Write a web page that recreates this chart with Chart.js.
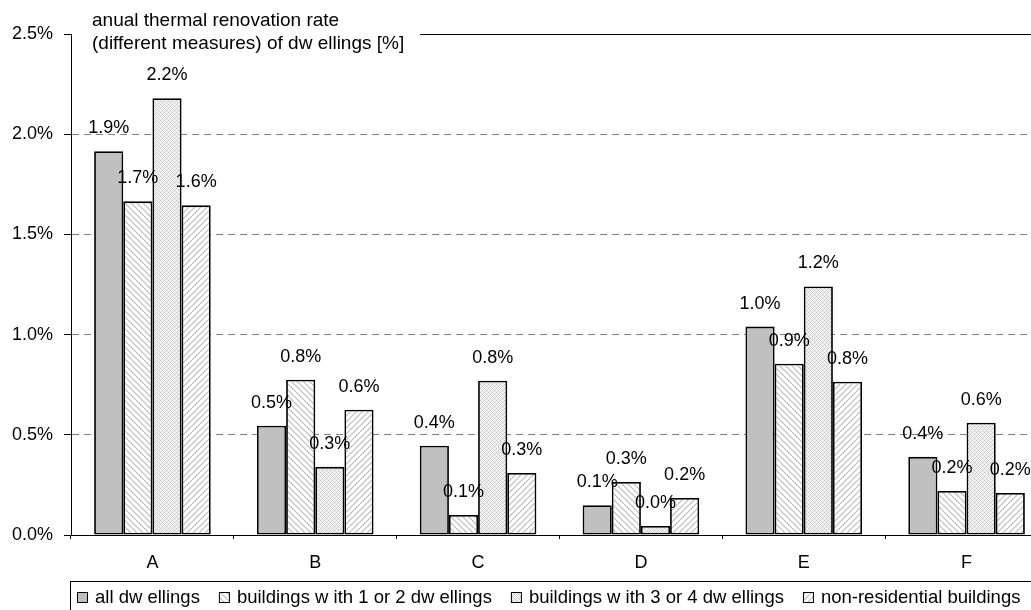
<!DOCTYPE html>
<html lang="en">
<head>
  <meta charset="utf-8">
  <script src="https://cdn.jsdelivr.net/npm/chart.js@4.4.0/dist/chart.umd.min.js"></script>
  <style>
    html, body {
      margin: 0;
      padding: 0;
      background: #fff;
      overflow: hidden;
    }
    #wrap {
      width: 1031px;
      height: 610px;
      overflow: hidden;
    }
  </style>
</head>
<body>
  <div id="wrap">
    <canvas id="chart" width="1048" height="610"></canvas>
  </div>

  <script>
    // data (percent)
    const categories = ['A', 'B', 'C', 'D', 'E', 'F'];
    const seriesNames = [
      'all dw ellings',
      'buildings w ith 1 or 2 dw ellings',
      'buildings w ith 3 or 4 dw ellings',
      'non-residential buildings'
    ];
    const allDwellings = [1.915, 0.545, 0.445, 0.148, 1.04, 0.39];
    const dwellings12 = [1.665, 0.775, 0.10, 0.265, 0.855, 0.22];
    const dwellings34 = [2.18, 0.34, 0.77, 0.045, 1.24, 0.56];
    const nonResidential = [1.645, 0.625, 0.31, 0.185, 0.765, 0.21];
    const yTicks = [0, 0.5, 1.0, 1.5, 2.0, 2.5];
    const titleLines = ['anual thermal renovation rate', '(different measures) of dw ellings [%]'];

    const FONT = '"Liberation Sans", Arial, sans-serif';

    function stripes(dir) {
      const c = document.createElement('canvas');
      c.width = 6; c.height = 6;
      const g = c.getContext('2d');
      g.fillStyle = '#fff';
      g.fillRect(0, 0, 6, 6);
      g.strokeStyle = '#bcbcbc';
      g.lineWidth = 1.2;
      for (let k = -6; k <= 12; k += 6) {
        g.beginPath();
        if (dir > 0) { g.moveTo(k, 6); g.lineTo(k + 6, 0); }
        else { g.moveTo(k, 0); g.lineTo(k + 6, 6); }
        g.stroke();
      }
      return g.createPattern(c, 'repeat');
    }

    function crosshatch() {
      const c = document.createElement('canvas');
      c.width = 4; c.height = 4;
      const g = c.getContext('2d');
      g.fillStyle = '#f2f2f2';
      g.fillRect(0, 0, 4, 4);
      g.fillStyle = '#c4c4c4';
      g.fillRect(0, 0, 1, 1);
      g.fillRect(2, 2, 1, 1);
      g.fillStyle = '#dadada';
      g.fillRect(1, 1, 1, 1);
      g.fillRect(3, 3, 1, 1);
      g.fillRect(1, 3, 1, 1);
      g.fillRect(3, 1, 1, 1);
      return g.createPattern(c, 'repeat');
    }

    const fills = ['#c0c0c0', stripes(-1), crosshatch(), stripes(1)];
    const values = [allDwellings, dwellings12, dwellings34, nonResidential];

    const decorations = {
      id: 'decorations',
      afterDatasetsDraw(chart) {
        const ctx = chart.ctx;
        ctx.save();
        // value labels above bars
        ctx.font = '18px ' + FONT;
        ctx.fillStyle = '#000';
        ctx.textAlign = 'center';
        ctx.textBaseline = 'middle';
        chart.data.datasets.forEach((ds, i) => {
          chart.getDatasetMeta(i).data.forEach((bar, j) => {
            ctx.fillText(ds.data[j].toFixed(1) + '%', bar.x, bar.y - 23);
          });
        });
        ctx.restore();
      },
      afterDraw(chart) {
        const ctx = chart.ctx;
        const area = chart.chartArea;
        ctx.save();
        // top frame line, interrupted by the axis title
        ctx.strokeStyle = '#000';
        ctx.lineWidth = 1;
        ctx.beginPath();
        ctx.moveTo(420, area.top + 0.5);
        ctx.lineTo(chart.width, area.top + 0.5);
        ctx.stroke();

        // axis title
        ctx.font = '19px ' + FONT;
        ctx.fillStyle = '#000';
        ctx.textAlign = 'left';
        ctx.textBaseline = 'middle';
        ctx.fillText(titleLines[0], 92, 21);
        ctx.fillText(titleLines[1], 92, 44);

        // legend
        ctx.strokeRect(70.5, 581.5, chart.width, 60);
        ctx.font = '18.5px ' + FONT;
        let x = 77;
        seriesNames.forEach((name, i) => {
          ctx.fillStyle = fills[i];
          ctx.fillRect(x, 592, 10, 10);
          ctx.strokeRect(x + 0.5, 592.5, 10, 10);
          ctx.fillStyle = '#000';
          ctx.fillText(name, x + 18, 597.5);
          x += 18 + ctx.measureText(name).width + 19;
        });
        ctx.restore();
      }
    };

    new Chart(document.getElementById('chart'), {
      type: 'bar',
      data: {
        labels: categories,
        datasets: seriesNames.map((name, i) => ({
          label: name,
          data: values[i],
          backgroundColor: fills[i],
          borderColor: '#000',
          borderWidth: 1.8,
          borderSkipped: false,
          categoryPercentage: 0.716,
          barPercentage: 1
        }))
      },
      options: {
        responsive: false,
        animation: false,
        layout: { padding: { top: 34, right: 0, left: 0, bottom: 0 } },
        plugins: {
          legend: { display: false },
          tooltip: { enabled: false }
        },
        scales: {
          x: {
            grid: {
              offset: true,
              drawOnChartArea: false,
              color: '#000',
              tickLength: 4
            },
            border: { color: '#000', width: 1 },
            ticks: {
              color: '#000',
              font: { family: FONT, size: 18 },
              padding: 13
            },
            afterFit(scale) { scale.height = 75; }
          },
          y: {
            min: 0,
            max: 2.5,
            afterBuildTicks(scale) {
              scale.ticks = yTicks.map(v => ({ value: v }));
            },
            grid: {
              color: ctx => (ctx.tick && ctx.tick.value > 0 && ctx.tick.value < 2.5) ? '#808080' : 'rgba(0,0,0,0)',
              tickColor: '#000',
              tickLength: 7,
              tickBorderDash: [],
              lineWidth: 1
            },
            border: { color: '#000', width: 1, dash: [7, 5] },
            ticks: {
              color: '#000',
              font: { family: FONT, size: 18 },
              padding: 11,
              callback: v => v.toFixed(1) + '%'
            },
            afterFit(scale) { scale.width = 71; }
          }
        }
      },
      plugins: [decorations]
    });
  </script>
</body>
</html>
